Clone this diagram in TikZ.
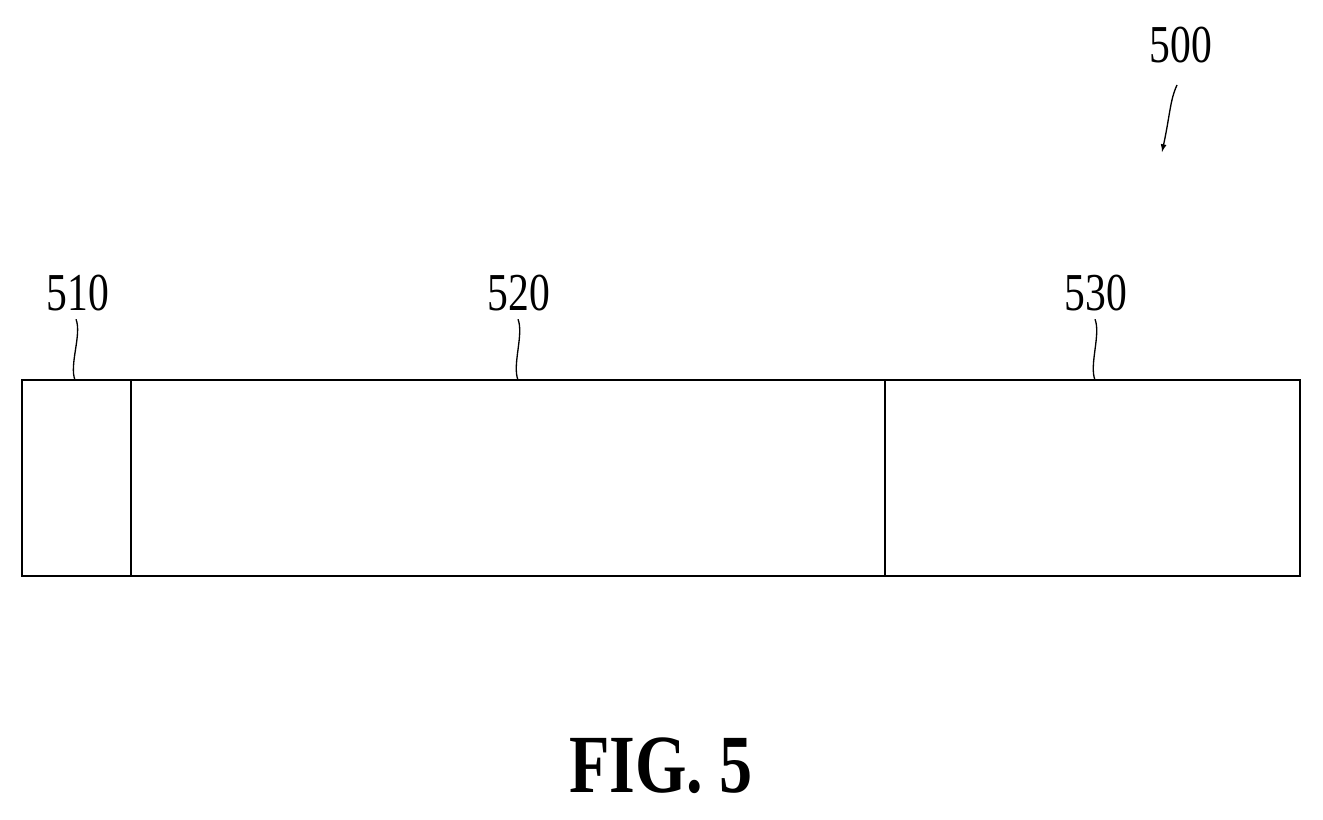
\documentclass[tikz,border=0pt]{standalone}
\usepackage{fontspec}
\usepackage{graphicx}
\setmainfont{Liberation Serif}
\begin{document}
\begin{tikzpicture}[x=0.75pt,y=-0.75pt,
  lab/.style={inner sep=0pt,font=\fontsize{40}{40}\selectfont},
  line/.style={line width=2.2pt}]
\useasboundingbox (0,0) rectangle (1323,819);
\draw[line] (22,380) rectangle (1300,576);
\draw[line] (131,380) -- (131,576);
\draw[line] (885,380) -- (885,576);
\coordinate (t1) at (75,380);
\coordinate (t2) at (518,380);
\coordinate (t3) at (1095,380);
\node[lab] (l1) at (78,293) {\scalebox{0.78}[1]{510}};
\node[lab] (l2) at (519,293) {\scalebox{0.78}[1]{520}};
\node[lab] (l3) at (1096,293) {\scalebox{0.78}[1]{530}};
\node[lab] (l0) at (1181,45) {\scalebox{0.78}[1]{500}};
\draw[line width=1pt] (l1.south) ++(-2,8) .. controls +(6,15) and +(-6,-15) .. (t1);
\draw[line width=1pt] (l2.south) ++(-1,8) .. controls +(6,15) and +(-6,-15) .. (t2);
\draw[line width=1pt] (l3.south) ++(-1,8) .. controls +(6,15) and +(-6,-15) .. (t3);
\coordinate (a0) at (1162,152);
\draw[line width=1pt,-{latex}] (1177,85) .. controls (1170,100) and (1170,115) .. (a0);
\node[inner sep=0pt,font=\bfseries\fontsize{62}{62}\selectfont] (fig) at (661,766) {\scalebox{0.8}[1]{FIG. 5}};
\end{tikzpicture}
\end{document}
